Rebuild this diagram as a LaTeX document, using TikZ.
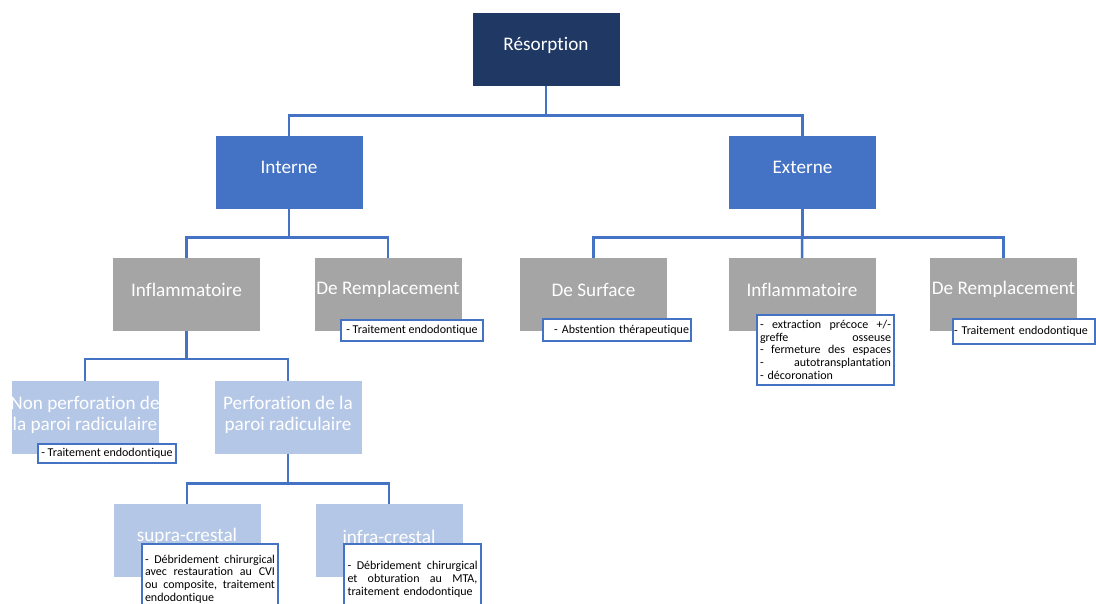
\documentclass[tikz,border=0pt]{standalone}
\usepackage{fontspec}
\setmainfont{Carlito}[Ligatures={NoCommon}]
\usetikzlibrary{calc}
\definecolor{navy}{HTML}{203864}
\definecolor{mblue}{HTML}{4472C4}
\definecolor{mgrey}{HTML}{A5A5A5}
\definecolor{lblue}{HTML}{B4C7E7}
\newlength{\nw}
\newcommand{\jl}[1]{\leavevmode\hbox to \nw{#1}}
\begin{document}
\begin{tikzpicture}[x=1pt,y=-1pt,
 box/.style={minimum width=147pt,minimum height=73pt,inner sep=0pt,outer sep=0pt},
 lvl0/.style={box,fill=navy},
 lvl1/.style={box,fill=mblue},
 lvl2/.style={box,fill=mgrey},
 lvl3/.style={box,fill=lblue},
 lbl/.style={text=white,font=\fontsize{19.2}{21}\selectfont,align=center,inner sep=0pt},
 note/.style={draw=mblue,line width=2pt,fill=white,anchor=north west,inner sep=0pt,font=\fontsize{12}{12.8}\selectfont},
 conn/.style={draw=mblue,line width=2.5pt}]
\fill[white] (0,0) rectangle (1096,603);
\useasboundingbox (0,0) rectangle (1096,603);
% boxes
\node[lvl0] (res) at (546,49) {};
\node[lvl1] (int) at (289,172) {};
\node[lvl1] (ext) at (802.5,172) {};
\node[lvl2] (inf1) at (186.5,294.5) {};
\node[lvl2] (rem1) at (388,294.5) {};
\node[lvl2] (surf) at (593.5,294.5) {};
\node[lvl2] (inf2) at (802,294.5) {};
\node[lvl2] (rem2) at (1003.5,294.5) {};
\node[lvl3] (nonp) at (85,417) {};
\node[lvl3] (perf) at (288,417) {};
\node[lvl3] (supra) at (187,540.5) {};
\node[lvl3] (infra) at (389,540.5) {};
% labels
\node[lbl,yshift=4pt] (tres) at (res) {Résorption};
\node[lbl,yshift=5pt] (tint) at (int) {Interne};
\node[lbl,yshift=5pt] (text) at (ext) {Externe};
\node[lbl,yshift=5pt] (tinf1) at (inf1) {Inflammatoire};
\node[lbl,yshift=5pt] (trem1) at (rem1) {De Remplacement};
\node[lbl,yshift=5pt] (tsurf) at (surf) {De Surface};
\node[lbl,yshift=5pt] (tinf2) at (inf2) {Inflammatoire};
\node[lbl,yshift=5pt] (trem2) at (rem2) {De Remplacement};
\node[lbl,yshift=2pt] (tnonp) at (nonp) {Non perforation de\\la paroi radiculaire};
\node[lbl,yshift=2pt] (tperf) at (perf) {Perforation de la\\paroi radiculaire};
\node[lbl,yshift=4pt] (tsupra) at (supra) {supra-crestal};
\node[lbl,yshift=4pt] (tinfra) at (infra) {infra-crestal};
% connectors
\draw[conn] (res.south) -- ++(0,30) -| (int.north);
\draw[conn] (res.south) -- ++(0,30) -| (ext.north);
\draw[conn] (int.south) -- ++(0,29) -| (inf1.north);
\draw[conn] (int.south) -- ++(0,29) -| (rem1.north);
\draw[conn] (ext.south) -- ++(0,29) -| (surf.north);
\draw[conn] (ext.south) -- (inf2.north);
\draw[conn] (ext.south) -- ++(0,29) -| (rem2.north);
\draw[conn] (inf1.south) -- ++(0,28) -| (nonp.north);
\draw[conn] (inf1.south) -- ++(0,28) -| (perf.north);
\draw[conn] (perf.south) -- ++(0,30) -| (supra.north);
\draw[conn] (perf.south) -- ++(0,30) -| (infra.north);
% notes
\node[note,minimum width=142pt,minimum height=21pt] (n1) at (340,319) {- Traitement endodontique};
\node[note,minimum width=148pt,minimum height=22pt,text width=144pt,align=right] (n2) at (542,318) {- Abstention thérapeutique};
\setlength{\nw}{131pt}
\node[note,minimum width=137pt,text width=131pt,align=left,inner xsep=3pt,inner ysep=5pt] (n3) at (756,314)
 {\jl{-\hfill extraction\hfill précoce\hfill +/-}\\\jl{greffe\hfill osseuse}\\\jl{-\hfill fermeture\hfill des\hfill espaces}\\\jl{-\hfill autotransplantation}\\- décoronation};
\node[note,minimum width=142pt,minimum height=25pt,text width=140pt,align=left] (n4) at (952,318) {- Traitement endodontique};
\node[note,minimum width=138pt,minimum height=19pt] (n5) at (37,443) {- Traitement endodontique};
\setlength{\nw}{130pt}
\node[note,minimum width=136pt,minimum height=70pt,text width=130pt,align=left,inner xsep=3pt,inner ysep=2pt] (n6) at (141,543)
 {\jl{-\hfill Débridement\hfill chirurgical}\\\jl{avec\hfill restauration\hfill au\hfill CVI}\\\jl{ou\hfill composite,\hfill traitement}\\endodontique};
\node[note,minimum width=137pt,minimum height=70pt,text width=130pt,align=left,inner xsep=3pt,inner ysep=7pt] (n7) at (343,543)
 {\jl{-\hfill Débridement\hfill chirurgical}\\\jl{et\hfill obturation\hfill au\hfill MTA,}\\traitement endodontique};
\end{tikzpicture}
\end{document}
